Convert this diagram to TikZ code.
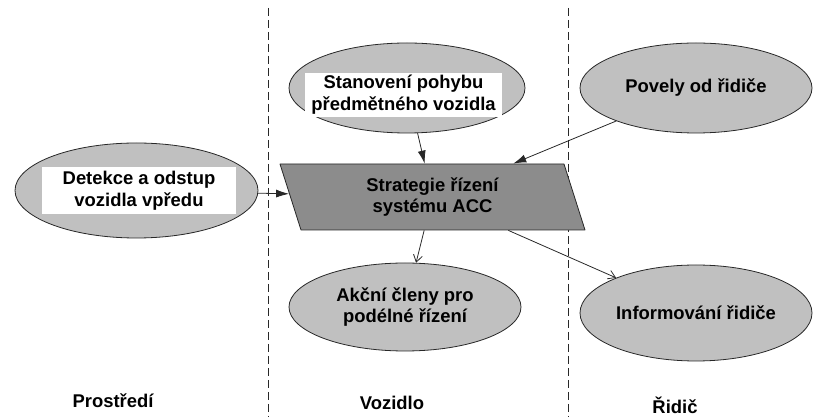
\documentclass[tikz,border=0pt]{standalone}
\usepackage[x11names, svgnames, rgb]{xcolor}
\usepackage{fontspec}
\setmainfont{Liberation Sans}
\usepackage{tikz}
\usetikzlibrary{arrows.meta,shapes}

\definecolor{ovalgray}{RGB}{192,192,192}
\definecolor{boxgray}{RGB}{140,140,140}
\definecolor{linecol}{RGB}{40,40,40}

\tikzset{
	oval/.style={draw=linecol,ellipse,fill=ovalgray,line width=0.8bp,inner sep=0pt},
	txtbox/.style={fill=white,inner sep=0pt,align=center,font=\bfseries\fontsize{18.5}{22}\selectfont},
	txt/.style={align=center,font=\bfseries\fontsize{18.5}{22}\selectfont},
	zone/.style={draw=linecol,line width=0.8bp,dash pattern=on 8bp off 4bp},
	flow/.style={-{Latex[length=13bp,width=8bp]},draw=linecol,line width=0.8bp},
	flowout/.style={-{Straight Barb[length=7bp,width=9bp]},draw=linecol,line width=0.8bp},
}

\begin{document}
\begin{tikzpicture}[line join=bevel,]
		\useasboundingbox (0bp,0bp) rectangle (815bp,417bp);
		%%
		\draw [zone] (268bp,409bp) -- (268bp,0bp);
		\draw [zone] (568bp,409bp) -- (568bp,0bp);
		%%
		\node (det) at (136.5bp,226.5bp) [oval,minimum width=243bp,minimum height=95bp] {};
		  \node (dettxt) at (139bp,226.5bp) [txtbox,minimum width=194bp,minimum height=47bp] {Detekce a odstup\\vozidla vpředu};
		\node (stan) at (407bp,329bp) [oval,minimum width=236bp,minimum height=90bp] {};
		  \node (stantxt) at (403.5bp,322bp) [txtbox,minimum width=197bp,minimum height=44bp] {Stanovení pohybu\\předmětného vozidla};
		\node (pov) at (696bp,329bp) [oval,minimum width=232bp,minimum height=90bp,txt] {Povely od řidiče};
		\node (acc) at (432.5bp,220bp) [draw=linecol,fill=boxgray,line width=0.8bp,trapezium,trapezium left angle=118,trapezium right angle=62,trapezium stretches body,minimum width=305bp,minimum height=66bp,inner sep=0pt,txt] {Strategie řízení\\systému ACC};
		\node (akc) at (405bp,110bp) [oval,minimum width=232bp,minimum height=88bp,txt] {Akční členy pro\\podélné řízení};
		\node (inf) at (696bp,104bp) [oval,minimum width=232bp,minimum height=96bp,txt] {Informování řidiče};
		%%
		\draw [flow] (det) -- (acc);
		\draw [flow] (stan) -- (acc);
		\draw [flow] (pov) -- (acc);
		\draw [flowout] (acc) -- (akc);
		\draw [flowout] (acc) -- (inf);
		%%
		\node (pro) at (113bp,16bp) [txt] {Prostředí};
		\node (voz) at (392bp,14bp) [txt] {Vozidlo};
		\node (rid) at (675bp,12bp) [txt] {Řidič};
		%
	\end{tikzpicture}
\end{document}
